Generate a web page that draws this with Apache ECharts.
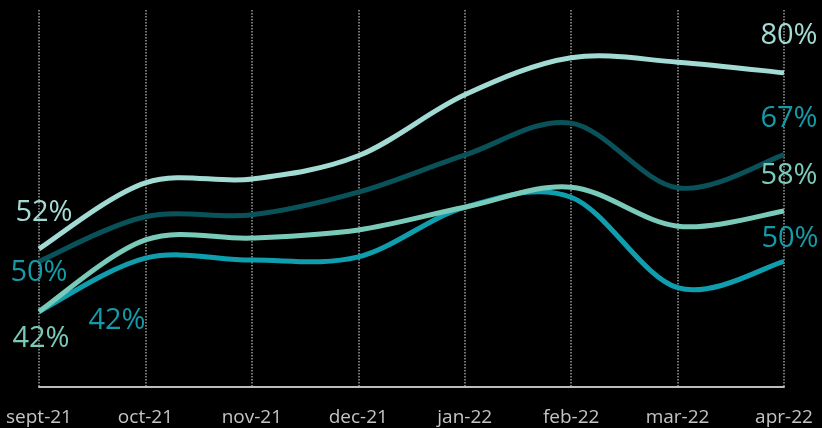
<!DOCTYPE html>
<html>
<head>
<meta charset="utf-8">
<script src="https://cdn.jsdelivr.net/npm/echarts@6/dist/echarts.min.js"></script>
<style>
html,body{margin:0;padding:0;background:#000;}
#chart{width:822px;height:428px;}
</style>
</head>
<body>
<div id="chart"></div>
<script>
var categories = ['sept-21','oct-21','nov-21','dec-21','jan-22','feb-22','mar-22','apr-22'];
var seriesLight = [52, 62.5, 63.1, 66.8, 76.5, 82.4, 81.7, 80];
var seriesDark  = [50, 57.1, 57.4, 61.0, 66.9, 72.0, 61.7, 67];
var seriesMint  = [42, 53.4, 53.7, 55.0, 58.6, 61.8, 55.6, 58];
var seriesTeal  = [42, 50.5, 50.2, 50.7, 58.6, 60.2, 45.8, 50];

var C_LIGHT = '#a2dad4', C_DARK = '#0a5259', C_MINT = '#79cab9', C_TEAL = '#0f9eae', C_LABELTEAL = '#139ba8';
var FONT = "'Open Sans', sans-serif";

// Smooth curve (Catmull-Rom style) drawn through points placed by the chart's own axes
function curveSeries(name, values, color, z) {
  return {
    name: name,
    type: 'custom',
    coordinateSystem: 'cartesian2d',
    silent: true,
    z: z,
    data: values.map(function (v, i) { return [i, v]; }),
    encode: { x: 0, y: 1 },
    renderItem: function (params, api) {
      if (params.dataIndex !== 0) return null;
      var pts = values.map(function (v, i) { return api.coord([i, v]); });
      var d = 'M' + pts[0][0] + ' ' + pts[0][1];
      for (var i = 0; i < pts.length - 1; i++) {
        var p0 = pts[i - 1] || pts[i], p1 = pts[i], p2 = pts[i + 1], p3 = pts[i + 2] || pts[i + 1];
        var c1x = p1[0] + (p2[0] - p0[0]) / 6, c1y = p1[1] + (p2[1] - p0[1]) / 6;
        var c2x = p2[0] - (p3[0] - p1[0]) / 6, c2y = p2[1] - (p3[1] - p1[1]) / 6;
        d += ' C' + c1x + ' ' + c1y + ' ' + c2x + ' ' + c2y + ' ' + p2[0] + ' ' + p2[1];
      }
      return {
        type: 'path',
        shape: { pathData: d },
        style: { fill: 'none', stroke: color, lineWidth: 5, lineCap: 'butt', lineJoin: 'round' }
      };
    }
  };
}

function labelSeries(name, values, lblFirst, lblLast, firstOff, lastOff) {
  var data = values.map(function (v, i) {
    if (i === 0 || i === values.length - 1) {
      return {
        value: v,
        label: {
          show: true,
          position: 'inside',
          offset: i === 0 ? firstOff : lastOff,
          formatter: function (p) { return Math.round(p.value) + '%'; },
          color: i === 0 ? lblFirst : lblLast,
          fontFamily: FONT,
          fontSize: 29
        }
      };
    }
    return v;
  });
  return {
    name: name + '-labels',
    type: 'line',
    z: 10,
    silent: true,
    symbol: 'circle',
    symbolSize: 0.1,
    showSymbol: true,
    itemStyle: { color: 'rgba(0,0,0,0)', borderWidth: 0 },
    lineStyle: { color: 'rgba(0,0,0,0)', width: 0 },
    emphasis: { disabled: true },
    data: data
  };
}

var chart = echarts.init(document.getElementById('chart'));
chart.setOption({
  backgroundColor: '#000',
  animation: false,
  grid: { left: 39, right: 38, top: 10, bottom: 41 },
  xAxis: {
    type: 'category',
    data: categories,
    boundaryGap: false,
    axisLine: { show: true, lineStyle: { color: '#bdbdbd', width: 2 } },
    axisTick: { show: false },
    axisLabel: { color: '#c4c4c4', fontFamily: FONT, fontSize: 19, margin: 21 },
    splitLine: { show: true, lineStyle: { color: '#9a9a9a', type: 'dotted', width: 1.5 } }
  },
  yAxis: {
    type: 'value',
    min: 30,
    max: 90,
    show: false,
    splitLine: { show: false }
  },
  series: [
    curveSeries('teal', seriesTeal, C_TEAL, 2),
    curveSeries('mint', seriesMint, C_MINT, 3),
    curveSeries('dark', seriesDark, C_DARK, 4),
    curveSeries('light', seriesLight, C_LIGHT, 5),
    labelSeries('teal', seriesTeal, C_LABELTEAL, C_LABELTEAL, [78, 9], [6, -23]),
    labelSeries('mint', seriesMint, C_MINT, C_MINT, [2, 27], [5, -35]),
    labelSeries('dark', seriesDark, C_LABELTEAL, C_LABELTEAL, [0, 11], [5, -36]),
    labelSeries('light', seriesLight, C_LIGHT, C_LIGHT, [5, -36], [5, -37])
  ]
});
</script>
</body>
</html>
